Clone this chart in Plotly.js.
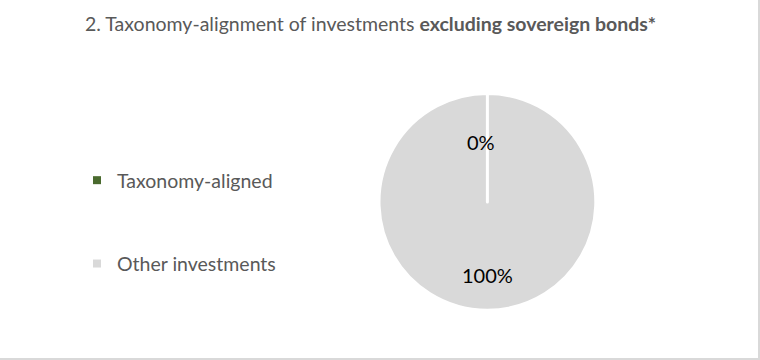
<!DOCTYPE html>
<html>
<head>
<meta charset="utf-8">
<script src="https://cdn.plot.ly/plotly-3.0.1.min.js"></script>
<style>
  html, body { margin: 0; padding: 0; background: #fff; }
  #chart { width: 758px; height: 358px; border-right: 2px solid #d9d9d9; border-bottom: 2px solid #d9d9d9; }
</style>
</head>
<body>
<div id="chart"></div>
<script>
const categories = ["Taxonomy-aligned", "Other investments"];
const values = [0, 100];
const colors = ["#4a6a2e", "#d9d9d9"];
const titleText = "2. Taxonomy-alignment of investments <b>excluding sovereign bonds*</b>";

const W = 758, H = 358;
const FONT = "Lato, 'Liberation Sans', sans-serif";

// pie geometry (paper fractions)
const domX = [0.5, 0.786];
const domY = [0.130, 0.742];

const total = values.reduce((a, b) => a + b, 0);
// A zero slice is dropped by Plotly; keep a vanishing share so its white
// border still shows as the radial line (like the original Excel render).
const drawValues = values.map(v => (v === 0 ? total * 1e-7 : v));

const pie = {
  type: "pie",
  labels: categories,
  values: drawValues,
  sort: false,
  direction: "clockwise",
  rotation: 0,
  marker: { colors: colors, line: { color: "#ffffff", width: 3 } },
  textinfo: "none",
  showlegend: false,
  hoverinfo: "label",
  domain: { x: domX, y: domY }
};

const legendTraces = categories.map((c, i) => ({
  type: "scatter",
  x: [null], y: [null],
  mode: "markers",
  name: c,
  legendgroup: "g" + i,
  marker: { symbol: "square", size: 8, color: colors[i] },
  showlegend: true,
  hoverinfo: "skip"
}));

// data labels placed along each slice's mid-angle
const labelRadius = [0.57, 0.69];
const labelShift = [-6, 0];
const cx = (domX[0] + domX[1]) / 2, cy = (domY[0] + domY[1]) / 2;
const r = Math.min((domX[1] - domX[0]) * W, (domY[1] - domY[0]) * H) / 2 - 2.5;
let cum = 0;
const annotations = values.map((v, i) => {
  const mid = (cum + v / 2) / total * 2 * Math.PI;
  cum += v;
  return {
    xref: "paper", yref: "paper",
    x: cx + labelRadius[i] * r * Math.sin(mid) / W,
    y: cy + labelRadius[i] * r * Math.cos(mid) / H,
    xanchor: "center", yanchor: "middle",
    xshift: labelShift[i],
    text: Math.round(v / total * 100) + "%",
    showarrow: false,
    font: { family: FONT, size: 20, color: "#000000" }
  };
});

const layout = {
  width: W, height: H,
  margin: { l: 0, r: 0, t: 0, b: 0 },
  paper_bgcolor: "#ffffff",
  plot_bgcolor: "#ffffff",
  font: { family: FONT, color: "#595959" },
  title: {
    text: titleText,
    font: { family: FONT, size: 19.5, color: "#595959" },
    x: 85 / W, xanchor: "left", xref: "paper",
    y: 1 - 24 / H, yanchor: "middle", yref: "container"
  },
  xaxis: { visible: false },
  yaxis: { visible: false },
  annotations: annotations,
  showlegend: true,
  legend: {
    x: 77 / W, xanchor: "left",
    y: 1 - 161 / H, yanchor: "top",
    bgcolor: "rgba(0,0,0,0)",
    font: { family: FONT, size: 19.5, color: "#595959" },
    traceorder: "grouped",
    tracegroupgap: 55,
    itemclick: false, itemdoubleclick: false
  }
};

Plotly.newPlot("chart", [pie].concat(legendTraces), layout, { displayModeBar: false, staticPlot: true });
</script>
</body>
</html>
